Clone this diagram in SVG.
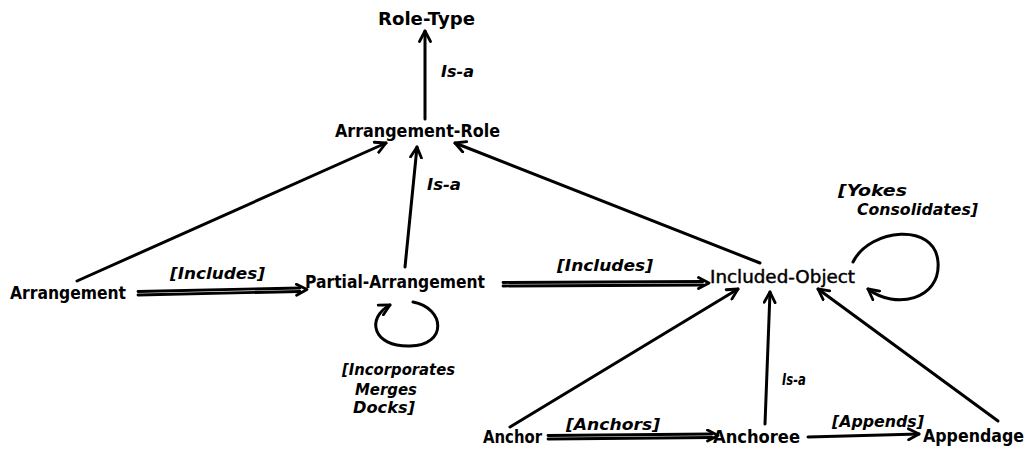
<svg xmlns="http://www.w3.org/2000/svg" width="1030" height="450" viewBox="0 0 1030 450">
  <defs>
    <marker id="head" viewBox="0 0 14 14" refX="12" refY="7" markerWidth="14" markerHeight="14" markerUnits="userSpaceOnUse" orient="auto">
      <path d="M1.5,1.5 L12,7 L1.5,12.5" fill="none" stroke="#000" stroke-width="2.8" stroke-linecap="round" stroke-linejoin="round"/>
    </marker>
    <style>
      .node { font-family: "DejaVu Sans", "Liberation Sans", sans-serif; font-weight: bold; font-size: 17px; fill: #000; }
      .light { font-weight: normal; stroke: #000; stroke-width: 0.45; }
      .rel { font-family: "DejaVu Sans", "Liberation Sans", sans-serif; font-weight: bold; font-style: italic; font-size: 16px; fill: #000; }
      .edge { fill: none; stroke: #000; stroke-width: 3; stroke-linecap: round; }
      .arrow { marker-end: url(#head); }
      .dbl { fill: none; stroke: #000; stroke-width: 2.8; stroke-linecap: round; }
      .guide { fill: none; stroke: none; marker-end: url(#head); }
    </style>
  </defs>

  <rect width="1030" height="450" fill="#fff"/>

  <!-- connectors -->
  <g id="connectors">
    <!-- is-a links -->
    <path class="edge arrow" d="M425,119 L425,31"/>
    <path class="edge arrow" d="M405,267 L417,147"/>
    <path class="edge arrow" d="M77,281 L386,143"/>
    <path class="edge arrow" d="M760,263 L455,143"/>
    <path class="edge arrow" d="M510,427 L738,289"/>
    <path class="edge arrow" d="M765,424 L770,292"/>
    <path class="edge arrow" d="M998,421 L818,289"/>

    <!-- [Includes] double links -->
    <path class="dbl" d="M138,291.5 L300,288"/>
    <path class="dbl" d="M138,295 L300,291.5"/>
    <path class="guide" d="M138,293 L307,289.5"/>

    <path class="dbl" d="M503,282.5 L703,281.5"/>
    <path class="dbl" d="M503,286 L703,285"/>
    <path class="guide" d="M503,284 L709,283"/>

    <!-- [Anchors] double link -->
    <path class="dbl" d="M548,435.5 L712,434"/>
    <path class="dbl" d="M548,439 L712,437.5"/>
    <path class="guide" d="M548,437 L718,435.5"/>

    <!-- [Appends] link -->
    <path class="edge arrow" d="M808,437 L919,434"/>

    <!-- self loops -->
    <path class="edge arrow" d="M413,302 C445,308 448,345 410,346 C372,347 366,318 390,305"/>
    <path class="edge arrow" d="M853,262 C870,228 935,222 938,262 C941,300 895,310 868,289"/>
  </g>

  <!-- nodes -->
  <g id="role-type"><text class="node" x="378" y="25" textLength="97" lengthAdjust="spacingAndGlyphs">Role-Type</text></g>
  <g id="arrangement-role"><text class="node" x="335" y="137" textLength="165" lengthAdjust="spacingAndGlyphs">Arrangement-Role</text></g>
  <g id="arrangement"><text class="node" x="10" y="299" textLength="116" lengthAdjust="spacingAndGlyphs">Arrangement</text></g>
  <g id="partial-arrangement"><text class="node" x="305" y="288" textLength="180" lengthAdjust="spacingAndGlyphs">Partial-Arrangement</text></g>
  <g id="included-object"><text class="node light" x="710" y="283" textLength="145" lengthAdjust="spacingAndGlyphs">Included-Object</text></g>
  <g id="anchor"><text class="node" x="483" y="443" textLength="59" lengthAdjust="spacingAndGlyphs">Anchor</text></g>
  <g id="anchoree"><text class="node" x="713" y="443" textLength="87" lengthAdjust="spacingAndGlyphs">Anchoree</text></g>
  <g id="appendage"><text class="node" x="923" y="442" textLength="101" lengthAdjust="spacingAndGlyphs">Appendage</text></g>

  <!-- relation labels -->
  <g id="labels">
    <text class="rel" x="441" y="77" textLength="33" lengthAdjust="spacingAndGlyphs">Is-a</text>
    <text class="rel" x="427" y="190" textLength="34" lengthAdjust="spacingAndGlyphs">Is-a</text>
    <text class="rel" x="782" y="385" textLength="24" lengthAdjust="spacingAndGlyphs">Is-a</text>
    <text class="rel" x="170" y="279" textLength="95" lengthAdjust="spacingAndGlyphs">[Includes]</text>
    <text class="rel" x="557" y="271" textLength="96" lengthAdjust="spacingAndGlyphs">[Includes]</text>
    <text class="rel" x="566" y="430" textLength="94" lengthAdjust="spacingAndGlyphs">[Anchors]</text>
    <text class="rel" x="832" y="427" textLength="92" lengthAdjust="spacingAndGlyphs">[Appends]</text>
    <text class="rel" x="342" y="375" textLength="113" lengthAdjust="spacingAndGlyphs">[Incorporates</text>
    <text class="rel" x="355" y="395" textLength="62" lengthAdjust="spacingAndGlyphs">Merges</text>
    <text class="rel" x="353" y="413" textLength="62" lengthAdjust="spacingAndGlyphs">Docks]</text>
    <text class="rel" x="838" y="196" textLength="69" lengthAdjust="spacingAndGlyphs">[Yokes</text>
    <text class="rel" x="857" y="215" textLength="121" lengthAdjust="spacingAndGlyphs">Consolidates]</text>
  </g>
</svg>
